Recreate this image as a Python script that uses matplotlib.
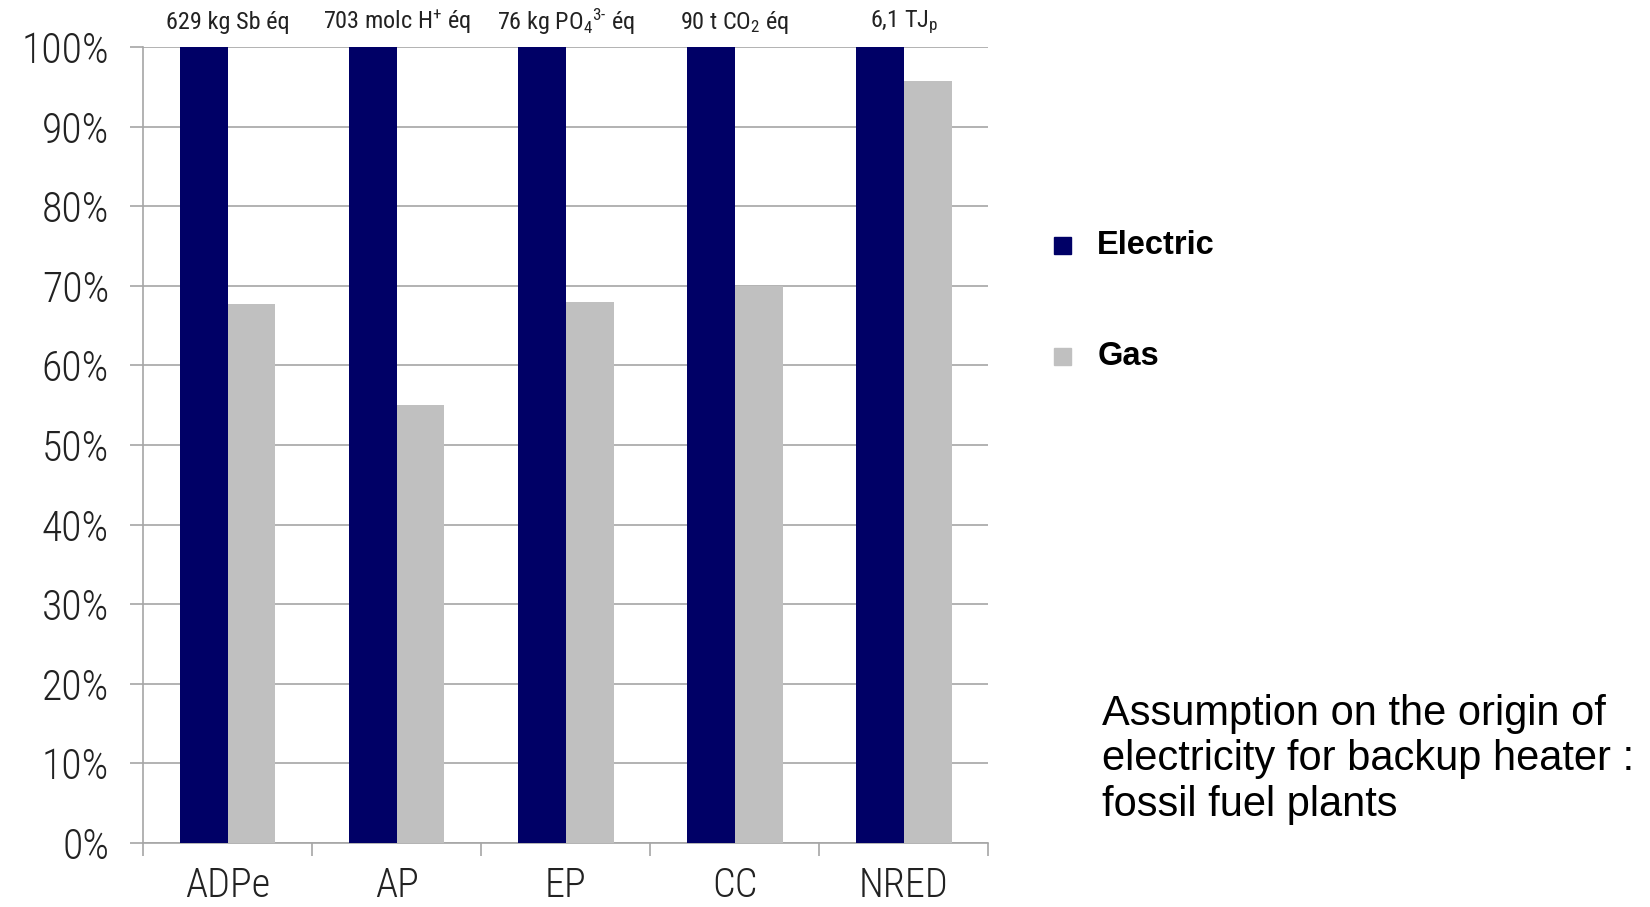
import matplotlib
matplotlib.use('Agg')
import matplotlib.pyplot as plt
from matplotlib import font_manager
from matplotlib.patches import Rectangle

# impact categories and relative scores (electric = reference 100 %)
categories = ['ADPe', 'AP', 'EP', 'CC', 'NRED']
electric = [100, 100, 100, 100, 100]
gas = [67.7, 55.0, 68.0, 70.0, 95.8]
reference_units = ['629 kg Sb éq', '703 molc H$^{+}$ éq', '76 kg PO$_{4}$$^{3\\text{-}}$ éq',
                   '90 t CO$_{2}$ éq', '6,1 TJ$_{p}$']
series_names = ['Electric', 'Gas']
yticks = list(range(0, 101, 10))

NAVY = '#000066'
GREY = '#C0C0C0'
LINE = '#A6A6A6'

installed = {f.name for f in font_manager.fontManager.ttflist}
narrow_name = next((n for n in ['Liberation Sans Narrow', 'DejaVu Sans Condensed', 'Roboto Condensed']
                    if n in installed), 'DejaVu Sans')
narrow = [narrow_name, 'DejaVu Sans']
stretch = 'condensed' if narrow_name == 'DejaVu Sans' else 'normal'

plt.rcParams['mathtext.fontset'] = 'custom'
plt.rcParams['mathtext.rm'] = narrow_name
plt.rcParams['mathtext.it'] = narrow_name

fig = plt.figure(figsize=(16.5, 9.07), dpi=100)
ax = fig.add_axes([0.0867, 0.0706, 0.5123, 0.8774])

x = list(range(len(categories)))
w = 0.283
ax.bar([i - w / 2 for i in x], electric, width=w, color=NAVY, zorder=3)
ax.bar([i + w / 2 for i in x], gas, width=w, color=GREY, zorder=3)

ax.set_xlim(-0.5, len(categories) - 0.5)
ax.set_ylim(0, 100)
ax.set_yticks(yticks)
ax.set_yticklabels(['{}%'.format(v) for v in yticks], family=narrow, fontsize=30,
                   fontstretch=stretch, fontweight='light', color='#222222')
ax.yaxis.grid(True, color=LINE, linewidth=1.2, zorder=0)
ax.tick_params(axis='y', length=9.5, color=LINE, width=1.2, pad=15)

# category boundaries as ticks, names centred between them
ax.set_xticks([i - 0.5 for i in range(len(categories) + 1)])
ax.set_xticklabels([])
ax.tick_params(axis='x', which='major', length=9.5, color=LINE, width=1.2)
ax.set_xticks(x, minor=True)
ax.set_xticklabels(categories, minor=True, family=narrow, fontsize=29,
                   fontstretch=stretch, fontweight='light', color='#222222')
ax.tick_params(axis='x', which='minor', length=0, pad=17)

for side in ['top', 'right']:
    ax.spines[side].set_visible(False)
for side in ['left', 'bottom']:
    ax.spines[side].set_color(LINE)
    ax.spines[side].set_linewidth(1.2)

# absolute value of the 100 % reference above each group
for i, label in enumerate(reference_units):
    ax.annotate(label, xy=(i, 100), xytext=(0, 18), textcoords='offset points',
                ha='center', va='center', fontsize=17.5, family=narrow, fontstretch=stretch,
                color='#222222', annotation_clip=False)

# legend drawn as squares with bold labels
for name, color, yf in zip(series_names, [NAVY, GREY], [0.729, 0.607]):
    fig.patches.append(Rectangle((0.639, yf - 0.0095), 0.0103, 0.0187, color=color,
                                 transform=fig.transFigure))
    fig.text(0.665, yf, name, fontsize=23.5, fontweight='bold', family='Liberation Sans',
             va='center', ha='left')

fig.text(0.668, 0.235, 'Assumption on the origin of\nelectricity for backup heater :\nfossil fuel plants',
         fontsize=30, family='Liberation Sans', va='top', ha='left', linespacing=1.18)

fig.savefig('out.png')
